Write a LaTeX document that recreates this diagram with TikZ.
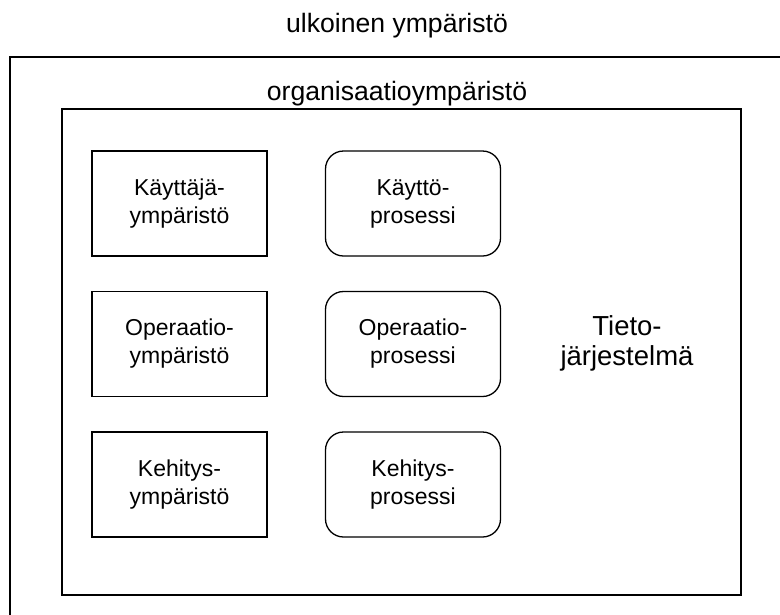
\documentclass[tikz,border=0pt]{standalone}
\usepackage{fontspec}
\setmainfont{Liberation Sans}
\begin{document}
\begin{tikzpicture}[x=1pt,y=-1pt,
  envbox/.style={draw=black,line width=1.3pt,minimum width=175pt,minimum height=105pt,inner sep=0pt,outer sep=0pt,align=center,font=\fontsize{23}{28}\selectfont},
  procbox/.style={envbox,rounded corners=18pt},
  frame/.style={draw=black,line width=1.7pt},
  biglabel/.style={inner sep=0pt,anchor=base,font=\fontsize{26.6}{30}\selectfont}]
\clip (0,0) rectangle (780,614);
\fill[white] (0,0) rectangle (780,614);
% outer environment (extends beyond the picture)
\draw[frame] (10,57) rectangle (800,640);
% organisation environment
\draw[frame] (62,109) rectangle (741,595);
\node[biglabel] (ulk) at (397,32) {ulkoinen ympäristö};
\node[biglabel] (org) at (397,100) {organisaatioympäristö};
% boxes
\node[envbox] (kay) at (179.5,203.5) {Käyttäjä-\\ympäristö};
\node[envbox] (ope) at (179.5,344) {Operaatio-\\ympäristö};
\node[envbox] (keh) at (179.5,484.5) {Kehitys-\\ympäristö};
\node[procbox] (kayp) at (413,203.5) {Käyttö-\\prosessi};
\node[procbox] (opep) at (413,344) {Operaatio-\\prosessi};
\node[procbox] (kehp) at (413,484.5) {Kehitys-\\prosessi};
\node[inner sep=0pt,align=center,font=\fontsize{27.5}{30}\selectfont] (tj) at (627,343) {Tieto-\\järjestelmä};
\end{tikzpicture}
\end{document}
